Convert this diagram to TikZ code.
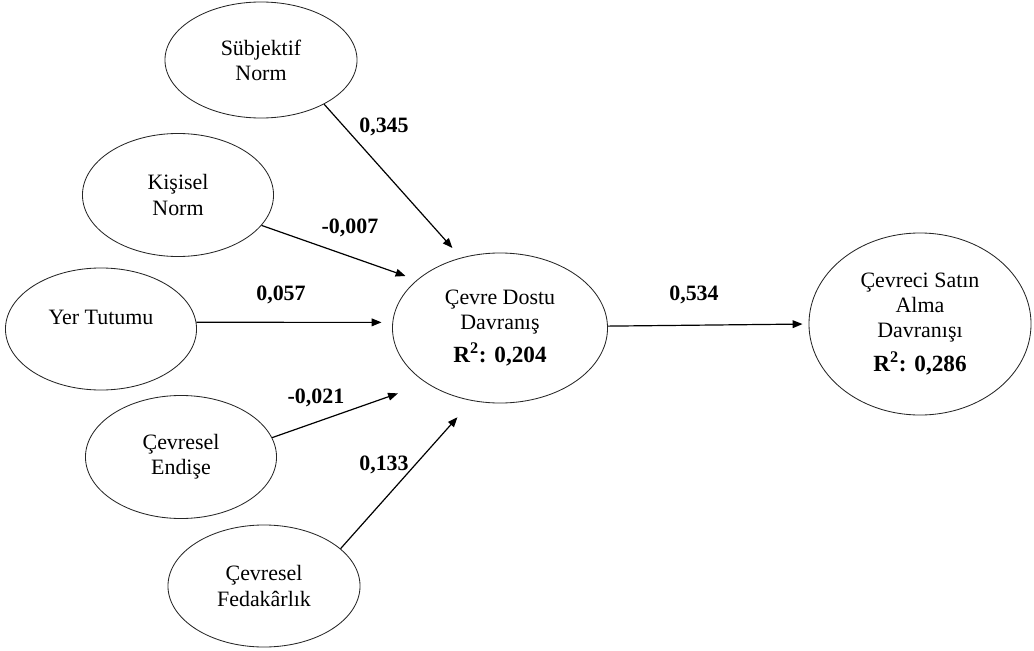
\documentclass[tikz,border=0pt]{standalone}
\usepackage{fontspec}
\setmainfont{Liberation Serif}
\usetikzlibrary{shapes.geometric,arrows.meta}
\newcommand{\txtsize}{\fontsize{15.6}{17.8}\selectfont}
\newcommand{\rsize}{\fontsize{16.5}{18}\selectfont\bfseries}
\tikzset{
  latent/.style={ellipse, draw=black!85, line width=0.6pt, align=center, inner sep=0pt, font=\txtsize},
  effect/.style={-{Triangle[length=7pt,width=5.5pt]}, line width=0.85pt},
  coef/.style={font=\txtsize\bfseries}
}

\begin{document}
\begin{tikzpicture}[x=0.025cm, y=-0.025cm]
        \useasboundingbox (0,0) rectangle (1034,651);

        % Latent constructs
        \node[latent, minimum width=4.8cm, minimum height=2.9cm] (subj) at (261,60) {Sübjektif\\Norm};
        \node[latent, minimum width=4.775cm, minimum height=3.075cm] (kisi) at (178,195) {Kişisel\\Norm};
        \node[latent, minimum width=4.775cm, minimum height=3.05cm, text depth=17pt] (yer) at (101,329) {Yer Tutumu};
        \node[latent, minimum width=4.775cm, minimum height=3.075cm] (endi) at (181,457) {Çevresel\\Endişe};
        \node[latent, minimum width=4.8cm, minimum height=3.05cm] (feda) at (264,586) {Çevresel\\Fedakârlık};
        \node[latent, minimum width=5.375cm, minimum height=3.75cm] (dostu) at (500,328)
            {Çevre Dostu\\Davranış\\[6pt]{\rsize R\textsuperscript{2}: 0,204}};
        \node[latent, minimum width=5.55cm, minimum height=4.55cm] (satin) at (920,324)
            {Çevreci Satın\\Alma\\Davranışı\\[6pt]{\rsize R\textsuperscript{2}: 0,286}};

        % Paths between constructs
        \draw[effect, shorten >=9.2pt] (subj.-35) -- (dostu.119);
        \draw[effect, shorten >=8.5pt] (kisi.-20) -- (dostu.150);
        \draw[effect, shorten >=7.7pt] (yer.4) -- (dostu.177);
        \draw[effect, shorten >=21.6pt] (endi.12) -- (dostu.217);
        \draw[effect, shorten >=15.6pt] (feda.26) -- (dostu.249);
        \draw[effect, shorten >=4.3pt] (dostu.1) -- (satin.west);

        % Path coefficients
        \node[coef] (wsubj) at (384,127) {0,345};
        \node[coef] (wkisi) at (350,228) {-0,007};
        \node[coef] (wyer) at (281,295) {0,057};
        \node[coef] (wendi) at (316,398) {-0,021};
        \node[coef] (wfeda) at (384,465) {0,133};
        \node[coef] (wdostu) at (694,295) {0,534};
\end{tikzpicture}
\end{document}
